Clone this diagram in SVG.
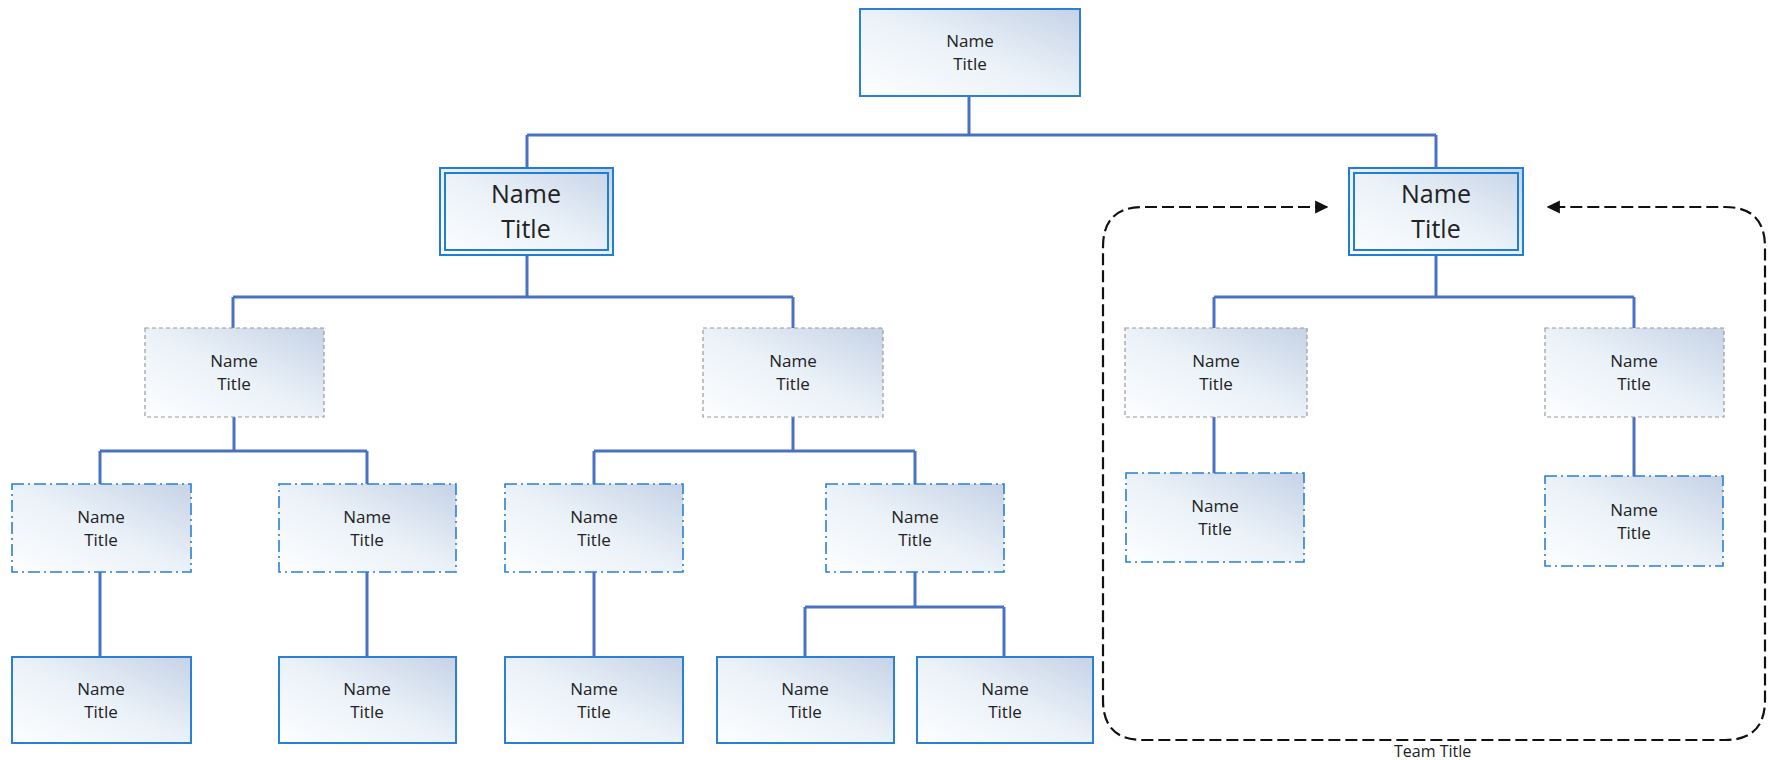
<svg xmlns="http://www.w3.org/2000/svg" width="1773" height="760" viewBox="0 0 1773 760">
<defs>
<linearGradient id="g" x1="0" y1="1" x2="1" y2="0">
<stop offset="0" stop-color="#fdfeff"/>
<stop offset="0.5" stop-color="#eaf1f8"/>
<stop offset="1" stop-color="#c6d3e6"/>
</linearGradient>
<marker id="ah" viewBox="0 0 10 10" refX="9" refY="5" markerWidth="6" markerHeight="6" orient="auto-start-reverse" markerUnits="strokeWidth">
<path d="M0,0 L10,5 L0,10 z" fill="#111"/>
</marker>
<style>
.box{fill:url(#g)}
.solid{stroke:#2b7fd4;stroke-width:2}
.dbl{fill:none;stroke:#1f7fd8;stroke-width:2}
.dot{stroke:#9a9a9a;stroke-width:1.2;stroke-dasharray:4 3}
.dd{stroke:#2b7fd4;stroke-width:1.6;stroke-dasharray:12 4 2 4}
.t{font-family:"Open Sans","Liberation Sans",sans-serif;font-size:17px;fill:#222;text-anchor:middle}
.tb{font-family:"Open Sans","Liberation Sans",sans-serif;font-size:25px;fill:#222;text-anchor:middle}
.c{fill:none;stroke:#4a72c4;stroke-width:3}
.team{fill:none;stroke:#111;stroke-width:2.2;stroke-dasharray:12 5}
.tt{font-family:"Open Sans","Liberation Sans",sans-serif;font-size:16px;fill:#222}
</style>
</defs>
<rect width="1773" height="760" fill="#fff"/>

<g id="connectors">
<path class="c" d="M969,96 V135 M527,135 H1436 M527,135 V167 M1436,135 V167"/>
<path class="c" d="M527,256 V297 M233,297 H793 M233,297 V328 M793,297 V328"/>
<path class="c" d="M1436,256 V297 M1214,297 H1634 M1214,297 V328 M1634,297 V328"/>
<path class="c" d="M234,417 V451 M100,451 H367 M100,451 V484 M367,451 V484"/>
<path class="c" d="M793,417 V451 M594,451 H915 M594,451 V484 M915,451 V484"/>
<path class="c" d="M100,572 V657 M367,572 V657 M594,572 V657"/>
<path class="c" d="M915,572 V607 M805,607 H1004 M805,607 V657 M1004,607 V657"/>
<path class="c" d="M1214,417 V473 M1634,417 V476"/>
</g>

<g id="team">
<path class="team" marker-start="url(#ah)" marker-end="url(#ah)" d="M1327,207 H1143 Q1103,207 1103,247 V700 Q1103,740 1143,740 H1725 Q1765,740 1765,700 V247 Q1765,207 1725,207 H1548"/>
<text class="tt" x="1394" y="757">Team Title</text>
</g>

<g id="n-top">
<rect class="box solid" x="860" y="9" width="220" height="87"/>
<text class="t" x="970" y="47">Name</text><text class="t" x="970" y="70">Title</text>
</g>

<g id="n-l1">
<rect class="box" x="439" y="167" width="175" height="89"/>
<rect class="dbl" x="440" y="168" width="173" height="87"/>
<rect class="dbl" x="445" y="173" width="163" height="77"/>
<text class="tb" x="526" y="203">Name</text><text class="tb" x="526" y="238">Title</text>
</g>
<g id="n-r1">
<rect class="box" x="1348" y="167" width="176" height="89"/>
<rect class="dbl" x="1349" y="168" width="174" height="87"/>
<rect class="dbl" x="1354" y="173" width="164" height="77"/>
<text class="tb" x="1436" y="203">Name</text><text class="tb" x="1436" y="238">Title</text>
</g>

<g id="n-a">
<rect class="box dot" x="145" y="328" width="179" height="89"/>
<text class="t" x="234" y="367">Name</text><text class="t" x="234" y="390">Title</text>
</g>
<g id="n-b">
<rect class="box dot" x="703" y="328" width="180" height="89"/>
<text class="t" x="793" y="367">Name</text><text class="t" x="793" y="390">Title</text>
</g>
<g id="n-c">
<rect class="box dot" x="1125" y="328" width="182" height="89"/>
<text class="t" x="1216" y="367">Name</text><text class="t" x="1216" y="390">Title</text>
</g>
<g id="n-d">
<rect class="box dot" x="1545" y="328" width="179" height="89"/>
<text class="t" x="1634" y="367">Name</text><text class="t" x="1634" y="390">Title</text>
</g>

<g id="n-a1">
<rect class="box dd" x="12" y="484" width="179" height="88"/>
<text class="t" x="101" y="523">Name</text><text class="t" x="101" y="546">Title</text>
</g>
<g id="n-a2">
<rect class="box dd" x="279" y="484" width="177" height="88"/>
<text class="t" x="367" y="523">Name</text><text class="t" x="367" y="546">Title</text>
</g>
<g id="n-b1">
<rect class="box dd" x="505" y="484" width="178" height="88"/>
<text class="t" x="594" y="523">Name</text><text class="t" x="594" y="546">Title</text>
</g>
<g id="n-b2">
<rect class="box dd" x="826" y="484" width="178" height="88"/>
<text class="t" x="915" y="523">Name</text><text class="t" x="915" y="546">Title</text>
</g>
<g id="n-c1">
<rect class="box dd" x="1126" y="473" width="178" height="89"/>
<text class="t" x="1215" y="512">Name</text><text class="t" x="1215" y="535">Title</text>
</g>
<g id="n-d1">
<rect class="box dd" x="1545" y="476" width="178" height="90"/>
<text class="t" x="1634" y="516">Name</text><text class="t" x="1634" y="539">Title</text>
</g>

<g id="n-a1a">
<rect class="box solid" x="12" y="657" width="179" height="86"/>
<text class="t" x="101" y="695">Name</text><text class="t" x="101" y="718">Title</text>
</g>
<g id="n-a2a">
<rect class="box solid" x="279" y="657" width="177" height="86"/>
<text class="t" x="367" y="695">Name</text><text class="t" x="367" y="718">Title</text>
</g>
<g id="n-b1a">
<rect class="box solid" x="505" y="657" width="178" height="86"/>
<text class="t" x="594" y="695">Name</text><text class="t" x="594" y="718">Title</text>
</g>
<g id="n-b2a">
<rect class="box solid" x="717" y="657" width="177" height="86"/>
<text class="t" x="805" y="695">Name</text><text class="t" x="805" y="718">Title</text>
</g>
<g id="n-b2b">
<rect class="box solid" x="917" y="657" width="176" height="86"/>
<text class="t" x="1005" y="695">Name</text><text class="t" x="1005" y="718">Title</text>
</g>
</svg>
